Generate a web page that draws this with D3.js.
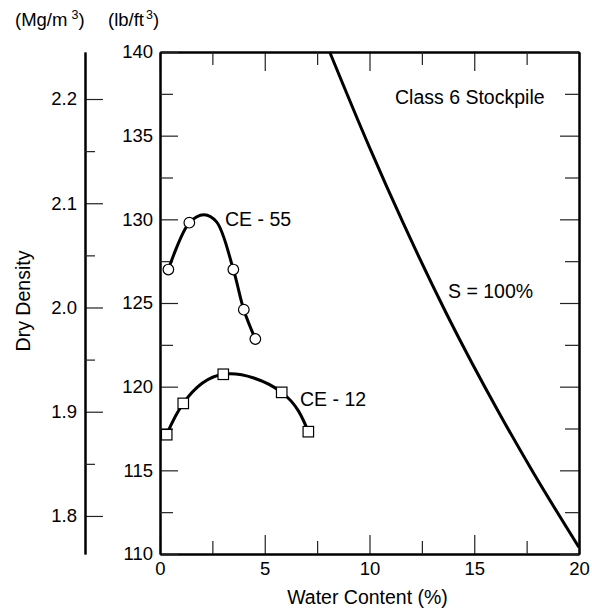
<!DOCTYPE html>
<html>
<head>
<meta charset="utf-8">
<title>Class 6 Stockpile - Dry Density vs Water Content</title>
<script src="https://d3js.org/d3.v7.min.js"></script>
<style>
body { margin: 0; background: #fff; }
svg { font-family: "Liberation Sans", Arial, sans-serif; }
.axis path { stroke: #000; stroke-width: 2; }
.axis line { stroke: #222; stroke-width: 1.2; }
.axis text { font-size: 18.5px; fill: #000; }
.fit { fill: none; stroke: #000; stroke-width: 3; }
.lbl { font-size: 19.5px; fill: #000; }
</style>
</head>
<body>
<div id="chart"></div>
<script>

// water content (%) and dry density (lb/ft3)
var ce55W = [0.4, 1.4, 3.5, 4.0, 4.55];
var ce55D = [127.0, 129.8, 127.0, 124.6, 122.85];
// hand-drawn fit through CE-55 (passes over the peak near 2.1 %)
var ce55FitW = [0.4, 1.4, 2.1, 2.7, 3.5, 4.0, 4.55];
var ce55FitD = [127.0, 129.8, 130.28, 129.85, 127.0, 124.6, 122.85];

var ce12W = [0.32, 1.11, 3.02, 5.81, 7.08];
var ce12D = [117.13, 119.0, 120.74, 119.66, 117.31];

// zero air voids line (S = 100%)
var satW = [8.1, 10, 11.6, 13.7, 16.2, 17.8, 20];
var satD = [140, 134.3, 129.8, 124.3, 118.4, 114.9, 110.4];

var xMajor = [0, 5, 10, 15, 20];
var xMinor = [2.5, 7.5, 12.5, 17.5];
var lbMajor = [110, 115, 120, 125, 130, 135, 140];
var lbMinor = [112.5, 117.5, 122.5, 127.5, 132.5, 137.5];
var mgMajor = [1.8, 1.9, 2.0, 2.1, 2.2];
var mgMinor = [1.85, 1.95, 2.05, 2.15];

var W = 592, H = 612;
var mLeft = 160, mTop = 52;
var width = 419, height = 502;
var mgAxisX = 85;

var svg = d3.select("#chart").append("svg")
  .attr("width", W)
  .attr("height", H);

var g = svg.append("g")
  .attr("transform", `translate(${mLeft}, ${mTop})`);

/* Scales */
var x = d3.scaleLinear().domain([0, 20]).range([0, width]);
var y = d3.scaleLinear().domain([110, 140]).range([height, 0]);
var yMg = d3.scaleLinear().domain([1.7635, 2.2451]).range([height, 0]);

/* Axes */
// bottom
g.append("g").attr("class", "axis")
  .attr("transform", `translate(0, ${height})`)
  .call(d3.axisBottom(x).tickValues(xMajor).tickSizeInner(-19).tickSizeOuter(0).tickPadding(8).tickFormat(d3.format("d")));
g.append("g").attr("class", "axis")
  .attr("transform", `translate(0, ${height})`)
  .call(d3.axisBottom(x).tickValues(xMinor).tickSizeInner(-13).tickSizeOuter(0).tickFormat(""));
// top
g.append("g").attr("class", "axis")
  .call(d3.axisTop(x).tickValues(xMajor).tickSizeInner(-19).tickSizeOuter(0).tickFormat(""));
g.append("g").attr("class", "axis")
  .call(d3.axisTop(x).tickValues(xMinor).tickSizeInner(-13).tickSizeOuter(0).tickFormat(""));
// left lb/ft3
g.append("g").attr("class", "axis")
  .call(d3.axisLeft(y).tickValues(lbMajor).tickSizeInner(-18).tickSizeOuter(0).tickPadding(7));
g.append("g").attr("class", "axis")
  .call(d3.axisLeft(y).tickValues(lbMinor).tickSizeInner(-13).tickSizeOuter(0).tickFormat(""));
// right
g.append("g").attr("class", "axis")
  .attr("transform", `translate(${width}, 0)`)
  .call(d3.axisRight(y).tickValues(lbMajor).tickSizeInner(-19).tickSizeOuter(0).tickFormat(""));
g.append("g").attr("class", "axis")
  .attr("transform", `translate(${width}, 0)`)
  .call(d3.axisRight(y).tickValues(lbMinor).tickSizeInner(-14).tickSizeOuter(0).tickFormat(""));
// Mg/m3 axis
g.append("g").attr("class", "axis")
  .attr("transform", `translate(${mgAxisX - mLeft}, 0)`)
  .call(d3.axisLeft(yMg).tickValues(mgMajor).tickSizeInner(-18).tickSizeOuter(0).tickPadding(8).tickFormat(d3.format(".1f")));
g.append("g").attr("class", "axis")
  .attr("transform", `translate(${mgAxisX - mLeft}, 0)`)
  .call(d3.axisLeft(yMg).tickValues(mgMinor).tickSizeInner(-10).tickSizeOuter(0).tickFormat(""));

/* Curves */
var line = d3.line()
  .x(d => x(d[0]))
  .y(d => y(d[1]));

var ce55 = d3.zip(ce55W, ce55D);
var ce55Fit = d3.zip(ce55FitW, ce55FitD);
var ce12 = d3.zip(ce12W, ce12D);
var sat = d3.zip(satW, satD);

g.append("path").attr("class", "fit")
  .attr("d", line.curve(d3.curveCatmullRom.alpha(0.5))(ce55Fit));
g.append("path").attr("class", "fit")
  .attr("d", line.curve(d3.curveNatural)(ce12));
g.append("path").attr("class", "fit")
  .attr("d", line.curve(d3.curveMonotoneX)(sat));

g.selectAll(".c55")
  .data(ce55).enter()
  .append("circle")
  .attr("cx", d => x(d[0]))
  .attr("cy", d => y(d[1]))
  .attr("r", 5.3)
  .style("fill", "#fff")
  .style("stroke", "#000")
  .style("stroke-width", 1.2);

var s = 10.5;
g.selectAll(".c12")
  .data(ce12).enter()
  .append("rect")
  .attr("x", d => x(d[0]) - s / 2)
  .attr("y", d => y(d[1]) - s / 2)
  .attr("width", s)
  .attr("height", s)
  .style("fill", "#fff")
  .style("stroke", "#000")
  .style("stroke-width", 1.2);

/* Labels */
svg.append("text").attr("class", "lbl").attr("x", 225).attr("y", 226).text("CE - 55");
svg.append("text").attr("class", "lbl").attr("x", 300).attr("y", 406).text("CE - 12");
svg.append("text").attr("class", "lbl").attr("x", 395).attr("y", 104).text("Class 6 Stockpile");
svg.append("text").attr("class", "lbl").attr("x", 448).attr("y", 298).text("S = 100%");

svg.append("text").attr("class", "lbl")
  .attr("x", mLeft + width / 2 - 2).attr("y", 604)
  .attr("text-anchor", "middle")
  .text("Water Content (%)");

svg.append("text").attr("class", "lbl")
  .attr("transform", "translate(30, 301) rotate(-90)")
  .attr("text-anchor", "middle")
  .text("Dry Density");

var u1 = svg.append("text").attr("class", "lbl").attr("x", 15).attr("y", 26).style("font-size", "18.5px");
u1.append("tspan").text("(Mg/m");
u1.append("tspan").attr("dx", 4).attr("dy", -7).style("font-size", "12.5px").text("3");
u1.append("tspan").attr("dy", 7).text(")");

var u2 = svg.append("text").attr("class", "lbl").attr("x", 108).attr("y", 26).style("font-size", "18.5px");
u2.append("tspan").text("(lb/ft");
u2.append("tspan").attr("dx", 2).attr("dy", -7).style("font-size", "12.5px").text("3");
u2.append("tspan").attr("dy", 7).text(")");

</script>
</body>
</html>
